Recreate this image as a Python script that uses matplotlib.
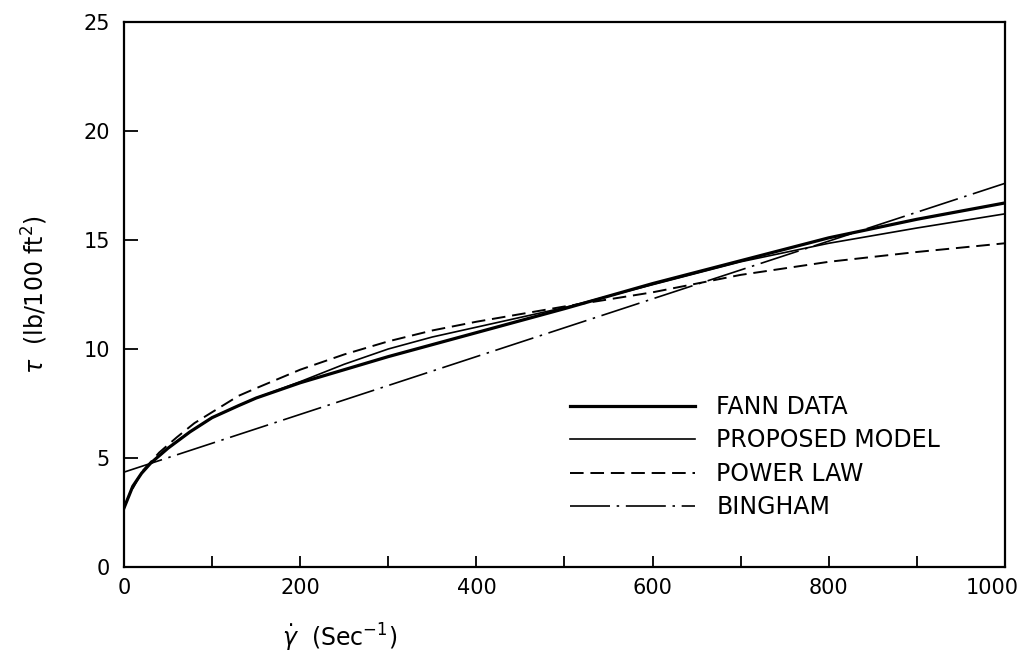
import matplotlib.pyplot as plt
from matplotlib.transforms import ScaledTranslation

# DATA (shear stress vs shear rate)
fann_rate = [0, 10, 20, 30, 40, 50, 75, 100, 130, 150, 200, 250, 300, 350, 400,
             450, 500, 600, 700, 800, 900, 1000]
fann_stress = [2.7, 3.7, 4.3, 4.75, 5.1, 5.45, 6.2, 6.85, 7.4, 7.75, 8.45, 9.05, 9.65,
               10.2, 10.75, 11.3, 11.85, 13.0, 14.05, 15.1, 15.95, 16.7]

model_rate = [0, 10, 20, 30, 40, 50, 75, 100, 130, 150, 200, 250, 300, 350, 400,
              450, 500, 600, 700, 800, 900, 1000]
model_stress = [2.7, 3.7, 4.3, 4.75, 5.1, 5.45, 6.2, 6.85, 7.4, 7.75, 8.5, 9.3, 10.0,
                10.55, 11.0, 11.45, 11.9, 12.95, 14.0, 14.85, 15.55, 16.2]

power_rate = [10, 20, 30, 40, 60, 80, 100, 130, 150, 200, 250, 300, 350, 400, 450,
              500, 600, 700, 800, 900, 1000]
power_stress = [3.6, 4.35, 4.8, 5.25, 5.95, 6.6, 7.1, 7.85, 8.2, 9.05, 9.75, 10.35,
                10.85, 11.25, 11.6, 11.95, 12.6, 13.4, 14.0, 14.45, 14.85]

bingham_rate = [0, 1000]
bingham_stress = [4.35, 17.6]

x_ticks = [0, 200, 400, 600, 800, 1000]
y_ticks = [0, 5, 10, 15, 20, 25]

# PLOT
plt.rcParams['font.family'] = 'DejaVu Sans'
fig = plt.figure(figsize=(10.27, 6.55), dpi=100)
ax = fig.add_axes([0.1207, 0.1344, 0.8579, 0.832])

ax.plot(fann_rate, fann_stress, color='black', lw=2.3, label='FANN DATA')
ax.plot(model_rate, model_stress, color='black', lw=1.2, label='PROPOSED MODEL')
ax.plot(power_rate, power_stress, color='black', lw=1.4,
        linestyle=(0, (7, 3.5)), label='POWER LAW')
ax.plot(bingham_rate, bingham_stress, color='black', lw=1.2,
        linestyle=(0, (24, 4, 1.5, 4)), label='BINGHAM')

ax.set_xlim(0, 1000)
ax.set_ylim(0, 25)
ax.set_xticks(x_ticks)
ax.set_xticks(range(100, 1000, 200), minor=True)
ax.set_yticks(y_ticks)
ax.tick_params(which='both', direction='in', labelsize=15, width=1.3)
ax.tick_params(axis='x', which='both', length=8, pad=8)
ax.tick_params(axis='y', length=10, pad=10)
for spine in ax.spines.values():
    spine.set_linewidth(1.6)

# pull the last x label in so it stays inside the figure
last = ax.get_xticklabels()[-1]
last.set_transform(last.get_transform() + ScaledTranslation(-9 / 72, 0, fig.dpi_scale_trans))

ax.set_xlabel(r'$\dot{\gamma}$  (Sec$^{-1}$)', fontsize=17)
ax.xaxis.set_label_coords(0.245, -0.1)
ax.set_ylabel(r'$\tau$  (lb/100 ft$^2$)', fontsize=17, labelpad=24)

ax.legend(loc='upper left', bbox_to_anchor=(0.506, 0.3156), frameon=False,
          fontsize=17, handlelength=5.3, handletextpad=0.9, labelspacing=0.4,
          borderpad=0, borderaxespad=0)

plt.savefig('out.png', dpi=100)
